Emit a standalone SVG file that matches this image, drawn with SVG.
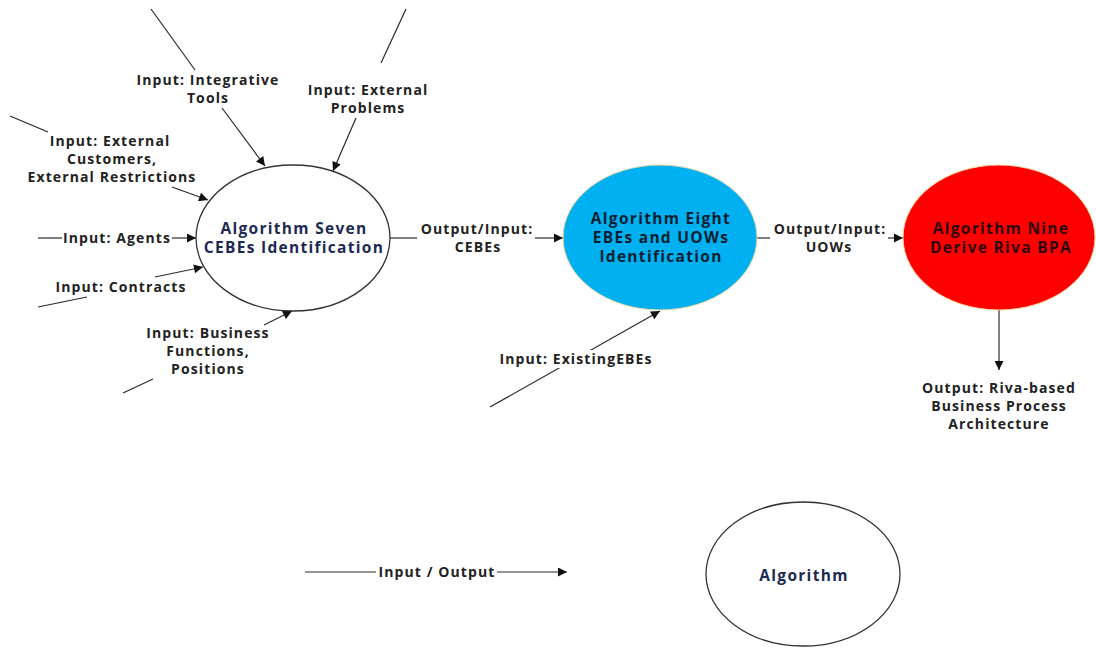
<svg xmlns="http://www.w3.org/2000/svg" width="1096" height="648" viewBox="0 0 1096 648">
  <style>
    .lbl { font-family: "Open Sans", "Liberation Sans", sans-serif; font-weight: 700; font-size: 14px; letter-spacing: 1.1px; fill: #222; text-anchor: middle; }
    .node-t { font-family: "Open Sans", "Liberation Sans", sans-serif; font-weight: 700; font-size: 15.5px; letter-spacing: 1.3px; text-anchor: middle; }
    .ln { stroke: #2a2a2a; stroke-width: 1.2; fill: none; }
    .arr { stroke: #2a2a2a; stroke-width: 1.2; fill: none; marker-end: url(#head); }
    .ring { fill: #ffffff; stroke: #333; stroke-width: 1.3; }
  </style>
  <defs>
    <marker id="head" viewBox="0 0 10 10" refX="10" refY="5" markerWidth="11" markerHeight="9" markerUnits="userSpaceOnUse" orient="auto">
      <path d="M0,0 L10,5 L0,10 z" fill="#111"/>
    </marker>
  </defs>
  <rect width="1096" height="648" fill="#ffffff"/>

  <!-- connectors -->
  <g id="connectors">
    <!-- Integrative Tools -->
    <line class="ln" x1="151" y1="9" x2="195" y2="70"/>
    <line class="arr" x1="222" y1="108" x2="265" y2="166"/>
    <!-- External Problems -->
    <line class="ln" x1="406" y1="9" x2="381" y2="63"/>
    <line class="arr" x1="356" y1="118" x2="333" y2="171"/>
    <!-- External Customers -->
    <line class="ln" x1="10" y1="116" x2="48" y2="132"/>
    <line class="arr" x1="172" y1="187" x2="208" y2="200"/>
    <!-- Agents -->
    <line class="ln" x1="38" y1="238" x2="62" y2="238"/>
    <line class="arr" x1="172" y1="238" x2="196" y2="238"/>
    <!-- Contracts -->
    <line class="ln" x1="38" y1="307" x2="87" y2="297"/>
    <line class="arr" x1="155" y1="277" x2="203" y2="267"/>
    <!-- Business Functions -->
    <line class="ln" x1="123" y1="393" x2="153" y2="379"/>
    <line class="arr" x1="264" y1="325" x2="292" y2="311"/>
    <!-- Seven to Eight -->
    <line class="ln" x1="390" y1="238" x2="417" y2="238"/>
    <line class="arr" x1="535" y1="238" x2="563" y2="238"/>
    <!-- Eight to Nine -->
    <line class="ln" x1="757" y1="238" x2="770" y2="238"/>
    <line class="arr" x1="888" y1="238" x2="903" y2="238"/>
    <!-- Nine output -->
    <line class="arr" x1="999" y1="310" x2="999" y2="370"/>
    <!-- Existing EBEs -->
    <line class="arr" x1="490" y1="407" x2="660" y2="311"/>
    <!-- legend arrow -->
    <line class="ln" x1="305" y1="572" x2="376" y2="572"/>
    <line class="arr" x1="497" y1="572" x2="567" y2="572"/>
  </g>

  <!-- labels on connectors -->
  <g id="labels">
    <text class="lbl" x="208" y="85">Input: Integrative</text>
    <text class="lbl" x="208" y="103">Tools</text>
    <text class="lbl" x="368" y="95">Input: External</text>
    <text class="lbl" x="368" y="113">Problems</text>
    <text class="lbl" x="110" y="146">Input: External</text>
    <text class="lbl" x="112" y="164">Customers,</text>
    <text class="lbl" x="112" y="182">External Restrictions</text>
    <text class="lbl" x="117" y="243">Input: Agents</text>
    <text class="lbl" x="121" y="292">Input: Contracts</text>
    <text class="lbl" x="208" y="338">Input: Business</text>
    <text class="lbl" x="208" y="356">Functions,</text>
    <text class="lbl" x="208" y="374">Positions</text>
    <text class="lbl" x="477" y="234">Output/Input:</text>
    <text class="lbl" x="478" y="252">CEBEs</text>
    <text class="lbl" x="830" y="234">Output/Input:</text>
    <text class="lbl" x="829" y="252">UOWs</text>
    <text class="lbl" x="999" y="393">Output: Riva-based</text>
    <text class="lbl" x="999" y="411">Business Process</text>
    <text class="lbl" x="999" y="429">Architecture</text>
    <rect x="496" y="350" width="159" height="18" fill="#ffffff"/>
    <text class="lbl" x="576" y="364">Input: ExistingEBEs</text>
    <text class="lbl" x="437" y="577">Input / Output</text>
  </g>

  <g id="alg-seven">
    <ellipse class="ring" cx="293" cy="238" rx="97" ry="73"/>
    <text class="node-t" x="294" y="234" fill="#1c2a52">Algorithm Seven</text>
    <text class="node-t" x="294" y="253" fill="#1c2a52">CEBEs Identification</text>
  </g>

  <g id="alg-eight">
    <ellipse cx="660" cy="237.5" rx="97" ry="72.5" fill="#00b0f0" stroke="#e6d9a8" stroke-width="1"/>
    <text class="node-t" x="661" y="224" fill="#0d1e30">Algorithm Eight</text>
    <text class="node-t" x="661" y="243" fill="#0d1e30">EBEs and UOWs</text>
    <text class="node-t" x="661" y="262" fill="#0d1e30">Identification</text>
  </g>

  <g id="alg-nine">
    <ellipse cx="999" cy="237.5" rx="96" ry="72.5" fill="#ff0000" stroke="#f0d8a0" stroke-width="1"/>
    <text class="node-t" x="1001" y="234" fill="#2a0808">Algorithm Nine</text>
    <text class="node-t" x="1001" y="253" fill="#2a0808">Derive Riva BPA</text>
  </g>

  <g id="legend-algorithm">
    <ellipse class="ring" cx="803" cy="574" rx="97" ry="72"/>
    <text class="node-t" x="804" y="581" fill="#1c2a52">Algorithm</text>
  </g>
</svg>
